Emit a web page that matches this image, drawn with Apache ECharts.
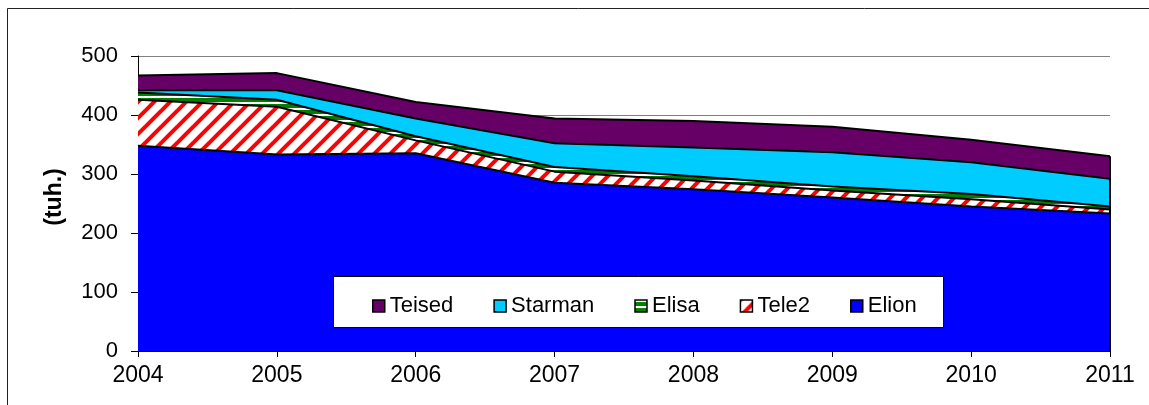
<!DOCTYPE html>
<html lang="et">
<head>
    <meta charset="UTF-8">
    <title>Mobiilside kliendid</title>
    <script src="https://cdn.jsdelivr.net/npm/echarts/dist/echarts.min.js"></script>
    <style>
        body { margin: 0; background: #fff; }
        #chart { width: 1149px; height: 405px; }
    </style>
</head>
<body>
<div id="chart"></div>
<script>
    // values in thousands
    const years = ['2004', '2005', '2006', '2007', '2008', '2009', '2010', '2011'];
    const elion = [348, 333, 335, 285, 274, 260, 245, 233];
    const tele2 = [78, 81, 22, 19, 15, 12, 12, 7];
    const elisa = [12, 12, 7, 8, 7, 7, 9, 5];
    const starman = [4, 16, 30, 40, 49, 58, 54, 47];
    const teised = [25, 29, 28, 42, 45, 43, 38, 38];
    const yTicks = [0, 100, 200, 300, 400, 500];

    const font = 'Liberation Sans, Arial, sans-serif';

    /**
     * Red/white diagonal hatch like the Tele2 fill
     */
    function hatch_pattern() {
        const s = 16;
        const c = document.createElement('canvas');
        c.width = s;
        c.height = s;
        const ctx = c.getContext('2d');
        ctx.fillStyle = '#fff';
        ctx.fillRect(0, 0, s, s);
        ctx.strokeStyle = '#ff0000';
        ctx.lineWidth = 4;
        [[0, s, s, 0], [-s / 2, s / 2, s / 2, -s / 2], [s / 2, s * 1.5, s * 1.5, s / 2]].forEach(l => {
            ctx.beginPath();
            ctx.moveTo(l[0], l[1]);
            ctx.lineTo(l[2], l[3]);
            ctx.stroke();
        });
        return {image: c, repeat: 'repeat'};
    }

    /**
     * Green/white horizontal stripes for Elisa
     */
    function stripe_pattern() {
        const c = document.createElement('canvas');
        c.width = 8;
        c.height = 6;
        const ctx = c.getContext('2d');
        ctx.fillStyle = '#008000';
        ctx.fillRect(0, 0, 8, 6);
        ctx.fillStyle = '#fff';
        ctx.fillRect(0, 0, 8, 2);
        return {image: c, repeat: 'repeat'};
    }

    function area_series(name, values, fill, extra) {
        return Object.assign({
            name: name,
            type: 'line',
            stack: 'total',
            data: values,
            symbol: 'none',
            color: fill,
            itemStyle: {color: fill},
            lineStyle: {color: '#000', width: 2},
            areaStyle: {color: fill, opacity: 1}
        }, extra || {});
    }

    const lastTotal = [elion, tele2, elisa, starman, teised].reduce((a, s) => a + s[s.length - 1], 0);

    const chart = echarts.init(document.getElementById('chart'));
    chart.setOption({
        animation: false,
        grid: {left: 138, right: 39, top: 56, bottom: 54},
        xAxis: {
            type: 'category',
            data: years,
            boundaryGap: false,
            axisLine: {lineStyle: {color: '#000', width: 1}},
            axisTick: {show: true, length: 6, lineStyle: {color: '#000'}},
            axisLabel: {color: '#000', fontSize: 23, fontFamily: font, margin: 13},
            splitLine: {show: false}
        },
        yAxis: {
            type: 'value',
            min: yTicks[0],
            max: yTicks[yTicks.length - 1],
            interval: 100,
            axisLine: {show: true, lineStyle: {color: '#000', width: 1}},
            axisTick: {show: true, length: 7, lineStyle: {color: '#000'}},
            axisLabel: {color: '#000', fontSize: 22, fontFamily: font, margin: 20},
            splitLine: {show: true, lineStyle: {color: '#808080', width: 1}}
        },
        legend: {
            data: ['Teised', 'Starman', 'Elisa', 'Tele2', 'Elion'],
            left: 367,
            top: 290,
            icon: 'rect',
            itemWidth: 12,
            itemHeight: 12,
            itemGap: 40,
            selectedMode: false,
            z: 10,
            itemStyle: {borderColor: '#000', borderWidth: 1.5},
            textStyle: {color: '#000', fontSize: 22, fontFamily: font}
        },
        graphic: [
            {
                type: 'rect',
                z: 5,
                shape: {x: 333.5, y: 276.5, width: 610, height: 51},
                style: {fill: '#fff', stroke: '#000', lineWidth: 1}
            },
            {
                type: 'rect',
                z: 5,
                shape: {x: 7.5, y: 8.5, width: 1160, height: 420},
                style: {fill: 'none', stroke: '#222', lineWidth: 1}
            },
            {
                type: 'text',
                z: 5,
                x: 55,
                y: 197,
                rotation: Math.PI / 2,
                style: {
                    text: '(tuh.)',
                    fill: '#000',
                    font: 'bold 23px ' + font,
                    textAlign: 'center',
                    textVerticalAlign: 'middle'
                }
            }
        ],
        series: [
            area_series('Elion', elion, '#0000ff'),
            area_series('Tele2', tele2, hatch_pattern()),
            area_series('Elisa', elisa, stripe_pattern()),
            area_series('Starman', starman, '#00ccff'),
            area_series('Teised', teised, '#660066', {
                markLine: {
                    silent: true,
                    symbol: 'none',
                    label: {show: false},
                    lineStyle: {color: '#000', width: 2, type: 'solid'},
                    data: [[{coord: [years.length - 1, 0]}, {coord: [years.length - 1, lastTotal]}]]
                }
            })
        ]
    });
</script>
</body>
</html>
